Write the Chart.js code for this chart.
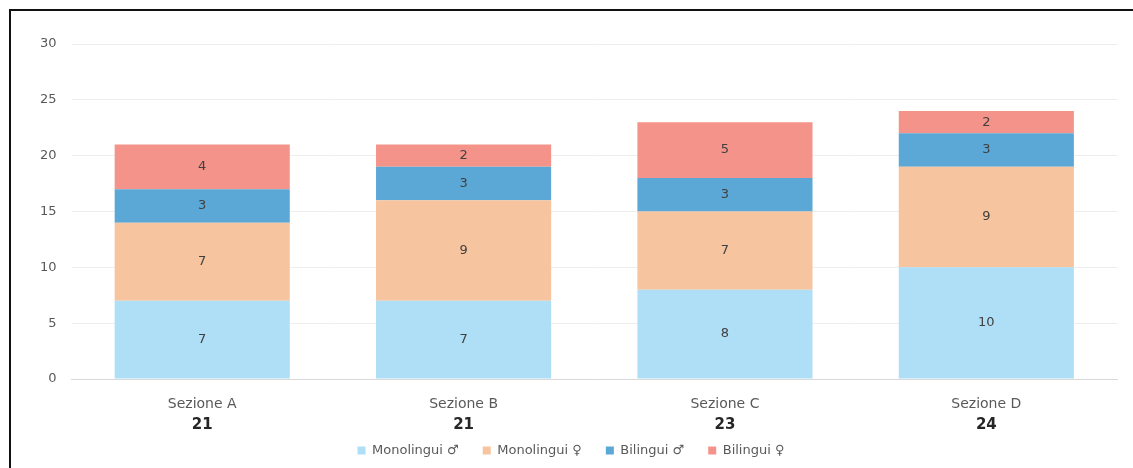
<!DOCTYPE html>
<html>
<head>
<meta charset="utf-8">
<script src="https://cdn.jsdelivr.net/npm/chart.js@4.4.1/dist/chart.umd.min.js"></script>
<style>
  html, body { margin: 0; padding: 0; background: #fff; overflow: hidden; }
  #wrap { position: relative; width: 1133px; height: 468px; }
  #frame { position: absolute; left: 9px; top: 9px; width: 1200px; height: 500px; border: 2px solid #111; box-sizing: border-box; }
  #chart { position: absolute; left: 0; top: 0; }
</style>
</head>
<body>
<div id="wrap">
  <div id="frame"></div>
  <canvas id="chart" width="1133" height="468"></canvas>
</div>
<script>
const categories = ['Sezione A', 'Sezione B', 'Sezione C', 'Sezione D'];
const monoMaschi = [7, 7, 8, 10];
const monoFemmine = [7, 9, 7, 9];
const biliMaschi = [3, 3, 3, 3];
const biliFemmine = [4, 2, 5, 2];
const yTicks = [0, 5, 10, 15, 20, 25, 30];

const totals = categories.map((_, i) => monoMaschi[i] + monoFemmine[i] + biliMaschi[i] + biliFemmine[i]);

Chart.defaults.font.family = '"DejaVu Sans", sans-serif';
Chart.defaults.font.size = 12;
Chart.defaults.color = '#595959';

// values written in the middle of each segment
const segmentLabels = {
  id: 'segmentLabels',
  afterDatasetsDraw(chart) {
    const ctx = chart.ctx;
    ctx.save();
    ctx.font = '13px "DejaVu Sans", sans-serif';
    ctx.fillStyle = '#404040';
    ctx.textAlign = 'center';
    ctx.textBaseline = 'middle';
    chart.data.datasets.forEach((ds, di) => {
      chart.getDatasetMeta(di).data.forEach((bar, i) => {
        const p = bar.getProps(['x', 'y', 'base'], true);
        ctx.fillText(ds.data[i], p.x, (p.y + p.base) / 2);
      });
    });
    ctx.restore();
  }
};

// bold totals under the category names
const totalLabels = {
  id: 'totalLabels',
  afterDraw(chart) {
    const x = chart.scales.x;
    const ctx = chart.ctx;
    ctx.save();
    ctx.font = 'bold 15px "DejaVu Sans", sans-serif';
    ctx.fillStyle = '#262626';
    ctx.textAlign = 'center';
    ctx.textBaseline = 'middle';
    totals.forEach((t, i) => {
      ctx.fillText(t, x.getPixelForTick(i), x.top + 46);
    });
    ctx.restore();
  }
};

new Chart(document.getElementById('chart').getContext('2d'), {
  type: 'bar',
  data: {
    labels: categories,
    datasets: [
      { label: 'Monolingui \u2642', data: monoMaschi, backgroundColor: '#aedff6' },
      { label: 'Monolingui \u2640', data: monoFemmine, backgroundColor: '#f6c49e' },
      { label: 'Bilingui \u2642', data: biliMaschi, backgroundColor: '#5ba8d6' },
      { label: 'Bilingui \u2640', data: biliFemmine, backgroundColor: '#f4938a' }
    ]
  },
  options: {
    responsive: false,
    animation: false,
    layout: { padding: { left: 25, right: 16, top: 44, bottom: 1 } },
    datasets: { bar: { categoryPercentage: 0.67, barPercentage: 1 } },
    plugins: {
      legend: {
        position: 'bottom',
        labels: { boxWidth: 8, boxHeight: 8, padding: 24, color: '#595959', font: { size: 13 } }
      },
      tooltip: { enabled: false }
    },
    scales: {
      x: {
        stacked: true,
        grid: { display: false, drawTicks: false },
        border: { color: '#d9d9d9' },
        ticks: { padding: 17, font: { size: 14 } },
        afterFit: scale => { scale.height = 41; }
      },
      y: {
        stacked: true,
        min: 0,
        max: 30,
        afterBuildTicks: axis => { axis.ticks = yTicks.map(v => ({ value: v })); },
        grid: { color: '#eeeeee', drawTicks: false },
        border: { display: false },
        ticks: { padding: 15, font: { size: 13 } }
      }
    }
  },
  plugins: [segmentLabels, totalLabels]
});
</script>
</body>
</html>
